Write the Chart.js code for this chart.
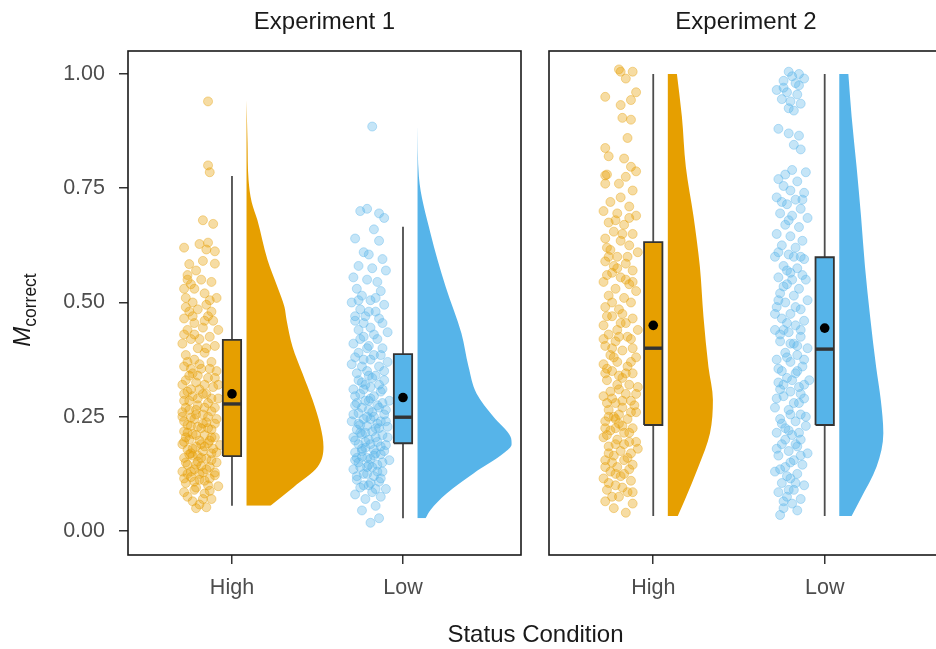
<!DOCTYPE html>
<html><head><meta charset="utf-8">
<script src="https://cdn.jsdelivr.net/npm/chart.js@4.4.1/dist/chart.umd.min.js"></script>
<style>
html,body{margin:0;padding:0;width:936px;height:649px;overflow:hidden;background:#fff;font-family:"Liberation Sans",Arial,sans-serif;position:relative;}
#c1{position:absolute;left:0;top:0;width:530px;height:649px;}
#c2{position:absolute;left:540px;top:0;width:410px;height:649px;}
.strip{position:absolute;top:9px;font-size:24px;line-height:24px;color:#1a1a1a;white-space:nowrap;transform:translateX(-50%);}
#xt{position:absolute;left:535.5px;top:622px;font-size:24px;line-height:24px;color:#1a1a1a;white-space:nowrap;transform:translateX(-50%);}
#yt{position:absolute;left:-40px;top:295px;width:124px;height:30px;line-height:30px;text-align:center;color:#1a1a1a;white-space:nowrap;transform:rotate(-90deg);font-size:24px;}
#yt i{font-style:italic;}
#yt span{font-size:17.5px;position:relative;top:6px;}
</style></head>
<body>
<canvas id="c1" width="530" height="649"></canvas>
<canvas id="c2" width="410" height="649"></canvas>
<div class="strip" id="s1" style="left:324.5px"></div>
<div class="strip" id="s2" style="left:746px"></div>
<div id="xt">Status Condition</div>
<div id="yt"><i>M</i><span>correct</span></div>
<script>
// ---------- data ----------
const categories = ['High', 'Low'];
const panels = ['Experiment 1', 'Experiment 2'];
const yTicks = [0, 0.25, 0.5, 0.75, 1.0];

// jittered observations [x (category units), M_correct]
const e1High = [[0.86,0.94],[0.86,0.80],[0.87,0.785],[0.83,0.68],[0.89,0.672],[0.72,0.62],[0.81,0.628],[0.86,0.631],[0.85,0.616],[0.90,0.612],[0.75,0.584],[0.83,0.591],[0.90,0.585],[0.74,0.56],[0.79,0.57],[0.82,0.55],[0.76,0.54],[0.72,0.53],[0.88,0.545],[0.73,0.51],[0.77,0.50],[0.84,0.52],[0.87,0.505],[0.91,0.51],[0.75,0.48],[0.80,0.485],[0.86,0.47],[0.72,0.465],[0.78,0.455],[0.89,0.46],[0.74,0.44],[0.83,0.445],[0.92,0.44],[0.76,0.42],[0.87,0.425],[0.71,0.41],[0.80,0.40],[0.90,0.405],[0.73,0.385],[0.84,0.39],[0.78,0.375],[0.88,0.37],[0.72,0.36],[0.82,0.355],[0.91,0.35],[0.75,0.34],[0.86,0.335],[0.79,0.325],[0.71,0.32],[0.89,0.315],[0.74,0.305],[0.83,0.30],[0.77,0.295],[0.92,0.29],[0.72,0.285],[0.86,0.28],[0.80,0.275],[0.75,0.265],[0.88,0.262],[0.83,0.255],[0.71,0.25],[0.78,0.245],[0.91,0.245],[0.85,0.238],[0.74,0.232],[0.80,0.228],[0.88,0.222],[0.72,0.218],[0.77,0.212],[0.84,0.21],[0.90,0.205],[0.75,0.20],[0.81,0.198],[0.86,0.192],[0.71,0.19],[0.79,0.185],[0.93,0.188],[0.74,0.178],[0.83,0.175],[0.88,0.17],[0.77,0.165],[0.72,0.16],[0.85,0.158],[0.80,0.152],[0.91,0.15],[0.74,0.145],[0.87,0.14],[0.78,0.135],[0.71,0.13],[0.83,0.128],[0.90,0.122],[0.76,0.118],[0.81,0.112],[0.73,0.105],[0.86,0.10],[0.79,0.095],[0.92,0.098],[0.72,0.085],[0.84,0.082],[0.88,0.07],[0.77,0.065],[0.81,0.058],[0.85,0.052],[0.76,0.31],[0.84,0.32],[0.73,0.27],[0.90,0.27],[0.79,0.255],[0.86,0.225],[0.73,0.205],[0.82,0.19],[0.76,0.17],[0.89,0.18],[0.80,0.165],[0.74,0.125],[0.87,0.115],[0.78,0.108],[0.82,0.142],[0.85,0.30],[0.77,0.345],[0.81,0.42],[0.84,0.46],[0.76,0.23],[0.88,0.205],[0.72,0.24],[0.80,0.34],[0.92,0.32],[0.83,0.235],
  [0.73,0.33],[0.81,0.31],[0.88,0.29],[0.75,0.285],[0.84,0.27],[0.79,0.265],[0.71,0.26],[0.86,0.25],[0.76,0.248],[0.90,0.235],[0.82,0.225],[0.74,0.215],[0.79,0.21],[0.87,0.198],[0.72,0.195],[0.84,0.185],[0.77,0.18],[0.91,0.172],[0.75,0.168],[0.82,0.16],[0.88,0.155],[0.73,0.15],[0.79,0.145],[0.85,0.135],[0.76,0.13],[0.90,0.128],[0.81,0.125],[0.72,0.115],[0.84,0.11],[0.78,0.09],[0.87,0.088],[0.74,0.075],[0.83,0.07],[0.79,0.05],[0.74,0.55],[0.78,0.53],[0.73,0.49],[0.77,0.47],[0.85,0.495],[0.88,0.48],[0.72,0.43],[0.78,0.43],[0.85,0.40],[0.74,0.37],[0.81,0.365],[0.87,0.355],[0.76,0.355],[0.90,0.335],[0.72,0.30],[0.80,0.29]];
const e1Low = [[1.82,0.885],[1.75,0.70],[1.79,0.705],[1.86,0.695],[1.89,0.685],[1.83,0.66],[1.72,0.64],[1.86,0.635],[1.77,0.61],[1.80,0.605],[1.88,0.595],[1.74,0.58],[1.82,0.575],[1.90,0.57],[1.71,0.555],[1.79,0.55],[1.85,0.545],[1.73,0.53],[1.87,0.525],[1.76,0.515],[1.81,0.505],[1.70,0.50],[1.89,0.495],[1.75,0.485],[1.84,0.48],[1.78,0.47],[1.72,0.46],[1.88,0.455],[1.81,0.445],[1.74,0.44],[1.91,0.435],[1.77,0.425],[1.85,0.42],[1.71,0.41],[1.80,0.405],[1.88,0.40],[1.74,0.39],[1.83,0.385],[1.77,0.375],[1.91,0.37],[1.70,0.365],[1.86,0.36],[1.79,0.35],[1.73,0.345],[1.84,0.34],[1.89,0.33],[1.76,0.325],[1.81,0.315],[1.71,0.31],[1.87,0.305],[1.75,0.30],[1.83,0.295],[1.78,0.285],[1.92,0.285],[1.72,0.275],[1.86,0.27],[1.80,0.265],[1.74,0.258],[1.89,0.255],[1.83,0.25],[1.77,0.245],[1.70,0.24],[1.85,0.235],[1.79,0.23],[1.91,0.228],[1.73,0.222],[1.82,0.218],[1.76,0.212],[1.88,0.21],[1.71,0.205],[1.80,0.20],[1.85,0.195],[1.74,0.19],[1.90,0.188],[1.78,0.182],[1.83,0.178],[1.72,0.172],[1.87,0.168],[1.76,0.162],[1.81,0.158],[1.92,0.155],[1.74,0.15],[1.85,0.145],[1.79,0.14],[1.71,0.135],[1.88,0.13],[1.77,0.125],[1.83,0.12],[1.73,0.112],[1.86,0.108],[1.80,0.10],[1.75,0.095],[1.90,0.092],[1.82,0.085],[1.72,0.08],[1.78,0.07],[1.87,0.075],[1.84,0.055],[1.76,0.045],[1.81,0.018],[1.86,0.028],[1.77,0.31],[1.86,0.32],[1.73,0.28],[1.82,0.26],[1.90,0.24],[1.75,0.215],[1.84,0.205],[1.78,0.195],[1.89,0.175],[1.73,0.16],[1.82,0.14],[1.86,0.225],[1.79,0.25],[1.74,0.235],[1.81,0.29],[1.88,0.28],[1.76,0.18],[1.83,0.165],
  [1.74,0.33],[1.82,0.335],[1.78,0.32],[1.88,0.31],[1.72,0.295],[1.80,0.285],[1.85,0.275],[1.76,0.27],[1.90,0.265],[1.71,0.255],[1.81,0.245],[1.87,0.24],[1.75,0.232],[1.84,0.225],[1.78,0.215],[1.91,0.205],[1.72,0.198],[1.81,0.19],[1.87,0.185],[1.76,0.175],[1.84,0.17],[1.79,0.16],[1.72,0.155],[1.88,0.15],[1.80,0.145],[1.75,0.14],[1.85,0.13],[1.79,0.125],[1.73,0.12],[1.87,0.115],[1.81,0.105],[1.77,0.10],[1.84,0.092],[1.75,0.42],[1.83,0.43],[1.79,0.40],[1.87,0.385],[1.72,0.38],[1.81,0.375],[1.76,0.36],[1.89,0.35],[1.80,0.34],[1.72,0.47],[1.80,0.48],[1.86,0.465],[1.77,0.455],[1.74,0.505],[1.84,0.51]];
const e2High = [[0.80,1.01],[0.81,1.005],[0.88,1.005],[0.84,0.99],[0.72,0.95],[0.81,0.932],[0.87,0.943],[0.90,0.96],[0.82,0.904],[0.87,0.90],[0.85,0.86],[0.72,0.838],[0.74,0.82],[0.83,0.815],[0.87,0.797],[0.90,0.787],[0.72,0.778],[0.84,0.775],[0.72,0.76],[0.88,0.745],[0.81,0.73],[0.75,0.72],[0.86,0.71],[0.71,0.70],[0.79,0.695],[0.90,0.69],[0.74,0.675],[0.83,0.67],[0.77,0.655],[0.88,0.65],[0.72,0.64],[0.81,0.635],[0.86,0.625],[0.75,0.615],[0.91,0.61],[0.79,0.60],[0.72,0.59],[0.84,0.585],[0.88,0.57],[0.76,0.565],[0.81,0.555],[0.71,0.545],[0.86,0.54],[0.78,0.53],[0.90,0.525],[0.74,0.515],[0.83,0.51],[0.87,0.50],[0.72,0.49],[0.80,0.485],[0.76,0.47],[0.88,0.465],[0.84,0.455],[0.71,0.45],[0.79,0.44],[0.91,0.44],[0.74,0.43],[0.85,0.425],[0.78,0.415],[0.72,0.405],[0.88,0.40],[0.82,0.395],[0.75,0.385],[0.90,0.38],[0.79,0.37],[0.71,0.365],[0.85,0.36],[0.76,0.35],[0.88,0.345],[0.82,0.335],[0.73,0.33],[0.79,0.32],[0.91,0.315],[0.75,0.305],[0.84,0.30],[0.71,0.295],[0.87,0.285],[0.78,0.28],[0.82,0.27],[0.74,0.265],[0.90,0.26],[0.77,0.25],[0.85,0.245],[0.72,0.24],[0.80,0.235],[0.88,0.225],[0.75,0.22],[0.83,0.215],[0.71,0.205],[0.79,0.20],[0.86,0.195],[0.74,0.185],[0.91,0.18],[0.81,0.175],[0.77,0.165],[0.85,0.16],[0.72,0.155],[0.88,0.145],[0.79,0.14],[0.75,0.13],[0.83,0.125],[0.71,0.115],[0.87,0.11],[0.78,0.10],[0.73,0.09],[0.85,0.085],[0.80,0.075],[0.72,0.065],[0.88,0.06],[0.77,0.05],[0.84,0.04],[0.77,0.58],[0.84,0.55],[0.73,0.47],[0.81,0.455],[0.87,0.42],[0.76,0.40],[0.73,0.355],[0.86,0.32],[0.80,0.31],[0.76,0.29],[0.89,0.275],[0.80,0.255],[0.73,0.21],[0.83,0.19],[0.87,0.17],[0.76,0.15],[0.81,0.12],[0.84,0.345],[0.78,0.225],[0.74,0.60],[0.82,0.65],
  [0.73,0.62],[0.85,0.60],[0.79,0.575],[0.73,0.56],[0.88,0.545],[0.76,0.50],[0.82,0.475],[0.71,0.42],[0.80,0.425],[0.77,0.38],[0.87,0.37],[0.72,0.345],[0.80,0.34],[0.90,0.30],[0.73,0.28],[0.82,0.285],[0.87,0.26],[0.74,0.25],[0.78,0.245],[0.82,0.23],[0.86,0.215],[0.72,0.225],[0.78,0.19],[0.90,0.195],[0.74,0.17],[0.83,0.155],[0.72,0.14],[0.86,0.135],[0.78,0.125],[0.74,0.105],[0.82,0.095],[0.88,0.085],[0.76,0.075],[0.73,0.78],[0.80,0.76],[0.78,0.68],[0.86,0.685]];
const e2Low = [[1.79,1.005],[1.81,0.995],[1.85,1.0],[1.76,0.985],[1.83,0.98],[1.88,0.99],[1.72,0.965],[1.78,0.96],[1.84,0.955],[1.75,0.945],[1.80,0.94],[1.86,0.935],[1.82,0.92],[1.73,0.88],[1.79,0.87],[1.85,0.865],[1.82,0.845],[1.86,0.835],[1.77,0.78],[1.81,0.79],[1.89,0.785],[1.73,0.77],[1.84,0.765],[1.76,0.755],[1.80,0.745],[1.88,0.74],[1.72,0.73],[1.83,0.725],[1.78,0.715],[1.86,0.705],[1.74,0.695],[1.81,0.69],[1.90,0.685],[1.77,0.67],[1.85,0.665],[1.72,0.65],[1.80,0.645],[1.87,0.635],[1.75,0.625],[1.83,0.62],[1.79,0.605],[1.71,0.60],[1.88,0.595],[1.76,0.58],[1.84,0.575],[1.80,0.565],[1.73,0.555],[1.89,0.55],[1.78,0.54],[1.85,0.53],[1.74,0.52],[1.82,0.515],[1.90,0.505],[1.77,0.50],[1.72,0.49],[1.86,0.485],[1.80,0.475],[1.75,0.465],[1.88,0.46],[1.83,0.45],[1.71,0.44],[1.79,0.435],[1.86,0.425],[1.74,0.415],[1.82,0.41],[1.90,0.40],[1.77,0.39],[1.84,0.385],[1.72,0.375],[1.80,0.37],[1.87,0.36],[1.75,0.35],[1.83,0.345],[1.78,0.335],[1.91,0.33],[1.73,0.325],[1.85,0.315],[1.80,0.305],[1.76,0.295],[1.88,0.29],[1.82,0.28],[1.71,0.27],[1.79,0.265],[1.86,0.255],[1.74,0.245],[1.83,0.24],[1.89,0.23],[1.77,0.225],[1.72,0.215],[1.81,0.21],[1.86,0.20],[1.75,0.19],[1.84,0.185],[1.79,0.175],[1.90,0.17],[1.73,0.165],[1.82,0.155],[1.87,0.145],[1.77,0.14],[1.71,0.13],[1.84,0.125],[1.80,0.115],[1.75,0.105],[1.88,0.10],[1.82,0.09],[1.73,0.085],[1.78,0.075],[1.86,0.07],[1.81,0.06],[1.76,0.05],[1.84,0.045],[1.74,0.035],[1.81,0.55],[1.86,0.60],[1.76,0.44],[1.84,0.35],[1.79,0.22],[1.85,0.28],[1.74,0.31],[1.83,0.19],[1.78,0.12],[1.88,0.32],[1.80,0.41],[1.73,0.505],
  [1.76,0.97],[1.85,0.975],[1.79,0.925],[1.75,0.72],[1.87,0.725],[1.79,0.68],[1.73,0.61],[1.82,0.60],[1.78,0.57],[1.87,0.56],[1.76,0.535],[1.83,0.49],[1.71,0.475],[1.78,0.455],[1.86,0.44],[1.74,0.43],[1.84,0.405],[1.78,0.38],[1.88,0.375],[1.73,0.355],[1.81,0.33],[1.76,0.32],[1.86,0.30],[1.72,0.29],[1.80,0.255],[1.89,0.25],[1.75,0.235],[1.85,0.215],[1.77,0.20],[1.72,0.18],[1.86,0.165],[1.80,0.15],[1.74,0.135],[1.83,0.105],[1.79,0.09],[1.76,0.065]];

// half-violin density outlines: M_correct levels and density width (category units)
const e1HighDensY = [0.055,0.096,0.14,0.184,0.228,0.287,0.345,0.403,0.462,0.49,0.534,0.593,0.68,0.72,0.768,0.85,0.943];
const e1HighDensW = [0.140,0.275,0.415,0.450,0.433,0.386,0.327,0.269,0.234,0.222,0.181,0.123,0.064,0.030,0.012,0.006,0];
const e1LowDensY = [0.028,0.046,0.082,0.126,0.17,0.19,0.206,0.25,0.301,0.36,0.432,0.535,0.651,0.775,0.89];
const e1LowDensW = [0.047,0.076,0.170,0.327,0.503,0.550,0.544,0.444,0.345,0.298,0.257,0.164,0.076,0.008,0];
const e2HighDensY = [0.033,0.068,0.141,0.214,0.287,0.359,0.469,0.578,0.688,0.797,0.907,1.0];
const e2HighDensW = [0.058,0.099,0.179,0.246,0.263,0.237,0.208,0.187,0.150,0.105,0.082,0.053];
const e2LowDensY = [0.033,0.068,0.141,0.214,0.287,0.359,0.469,0.578,0.688,0.797,0.907,1.0];
const e2LowDensW = [0.072,0.121,0.218,0.257,0.242,0.215,0.180,0.150,0.127,0.101,0.072,0.053];

// box stats: [lower whisker, Q1, median, Q3, upper whisker]
const e1HighBox = [0.055,0.164,0.278,0.418,0.777];
const e1LowBox  = [0.028,0.192,0.249,0.387,0.666];
const e2HighBox = [0.033,0.232,0.400,0.632,1.000];
const e2LowBox  = [0.033,0.232,0.398,0.599,1.000];
const e1Means = [0.300, 0.292];
const e2Means = [0.450, 0.444];

// ---------- styling ----------
const ORANGE = '#E69F00', BLUE = '#56B4E9';
const ptFill = {[ORANGE]:'rgba(230,159,0,0.36)', [BLUE]:'rgba(86,180,233,0.34)'};
const ptEdge = {[ORANGE]:'rgba(230,159,0,0.48)', [BLUE]:'rgba(86,180,233,0.48)'};
const FONT = "'Liberation Sans', Arial, sans-serif";
const BOX_HALF = 0.0535, VIOLIN_OFF = 0.085;
Chart.defaults.font.family = FONT;

function groupDatasets(c, color, pts, densY, densW, box, mean) {
  return [
    {type:'scatter', data: pts.map(p => ({x:p[0], y:p[1]})), pointRadius:4.5, pointBackgroundColor:ptFill[color], pointBorderColor:ptEdge[color], pointBorderWidth:0.8, order:50},
    {type:'line', indexAxis:'y', data: densY.map((y,i) => ({x: c + VIOLIN_OFF + densW[i], y})), fill:{value: c + VIOLIN_OFF}, backgroundColor: color, borderWidth:0, pointRadius:0, cubicInterpolationMode:'monotone', order:40},
    {type:'line', data:[{x:c,y:box[0]},{x:c,y:box[4]}], borderColor:'#4d4d4d', borderWidth:1.8, pointRadius:0, fill:false, order:30},
    {type:'line', indexAxis:'y', data:[{x:c+BOX_HALF,y:box[1]},{x:c+BOX_HALF,y:box[3]}], fill:{value:c-BOX_HALF}, backgroundColor:color, borderWidth:0, pointRadius:0, order:20},
    {type:'line', data:[{x:c-BOX_HALF,y:box[1]},{x:c+BOX_HALF,y:box[1]},{x:c+BOX_HALF,y:box[3]},{x:c-BOX_HALF,y:box[3]},{x:c-BOX_HALF,y:box[1]}], borderColor:'#333333', borderWidth:1.8, pointRadius:0, fill:false, order:15},
    {type:'line', data:[{x:c-BOX_HALF,y:box[2]},{x:c+BOX_HALF,y:box[2]}], borderColor:'#333333', borderWidth:3.4, pointRadius:0, fill:false, order:10},
    {type:'scatter', data:[{x:c,y:mean}], pointRadius:4.8, pointBackgroundColor:'#000', pointBorderWidth:0, order:0}
  ];
}

const framePlugin = {
  id:'frame',
  afterDatasetsDraw(chart) {
    const {ctx, chartArea:a} = chart;
    ctx.save();
    ctx.strokeStyle = '#1a1a1a';
    ctx.lineWidth = 1.6;
    ctx.strokeRect(a.left, a.top, a.right - a.left, a.bottom - a.top);
    ctx.restore();
  }
};

function makeScales(showY) {
  const tickFont = {size:21.5, family:FONT};
  return {
    x: {type:'linear', min:0.392, max:2.69,
        afterBuildTicks: s => { s.ticks = categories.map((c,i) => ({value:i+1})); },
        ticks:{callback: v => categories[Math.round(v)-1] || '', color:'#4d4d4d', font:tickFont, padding:11, maxRotation:0, autoSkip:false},
        grid:{drawOnChartArea:false, drawTicks:true, tickLength:9, color:'#333333', lineWidth:1.5},
        border:{display:false},
        afterFit: s => { s.height = 94; }},
    y: {type:'linear', min:-0.0525, max:1.0503, display: showY,
        afterBuildTicks: s => { s.ticks = yTicks.map(v => ({value:v})); },
        ticks:{callback: v => Number(v).toFixed(2), color:'#4d4d4d', font:tickFont, padding:14},
        grid:{drawOnChartArea:false, drawTicks:true, tickLength:9, color:'#333333', lineWidth:1.5},
        border:{display:false},
        afterFit: s => { s.width = showY ? 128 : 0; }}
  };
}

function makeChart(id, datasets, showY, padding) {
  return new Chart(document.getElementById(id), {
    type:'scatter',
    data:{datasets},
    options:{
      responsive:false, animation:false, events:[],
      layout:{padding},
      plugins:{legend:{display:false}, tooltip:{enabled:false}, title:{display:false}},
      scales: makeScales(showY)
    },
    plugins:[framePlugin]
  });
}

document.getElementById('s1').textContent = panels[0];
document.getElementById('s2').textContent = panels[1];

makeChart('c1', [
  ...groupDatasets(1, ORANGE, e1High, e1HighDensY, e1HighDensW, e1HighBox, e1Means[0]),
  ...groupDatasets(2, BLUE, e1Low, e1LowDensY, e1LowDensW, e1LowBox, e1Means[1])
], true, {left:0, top:51, right:9, bottom:0});

makeChart('c2', [
  ...groupDatasets(1, ORANGE, e2High, e2HighDensY, e2HighDensW, e2HighBox, e2Means[0]),
  ...groupDatasets(2, BLUE, e2Low, e2LowDensY, e2LowDensW, e2LowBox, e2Means[1])
], false, {left:9, top:51, right:7, bottom:0});
</script>
</body></html>
